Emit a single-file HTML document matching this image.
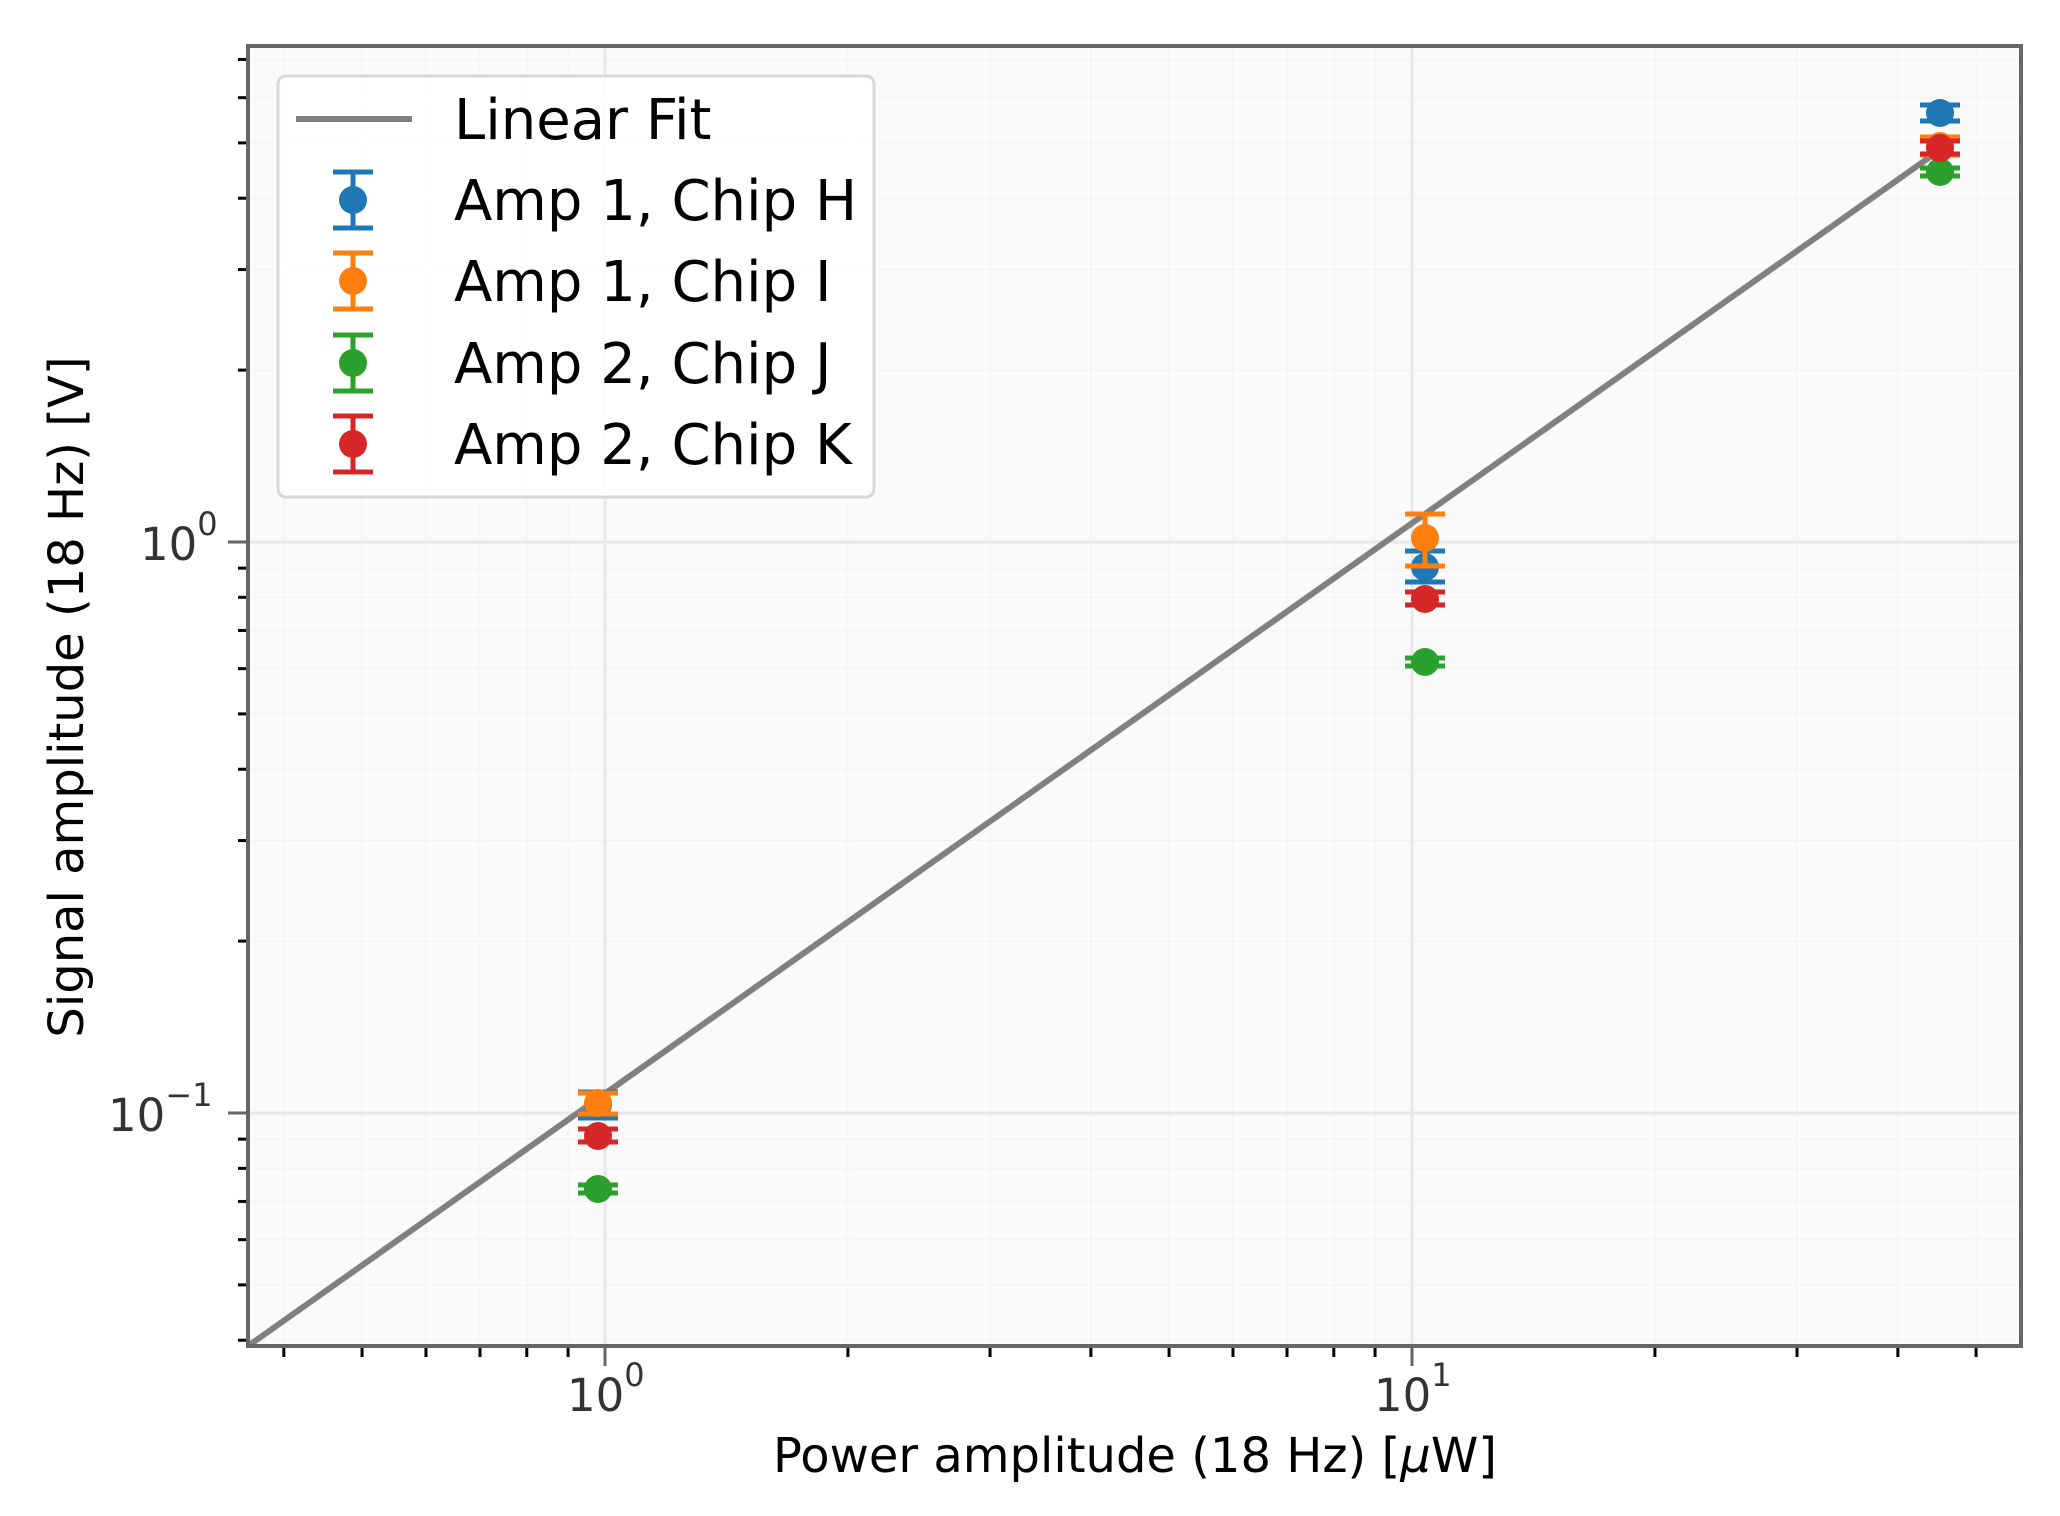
<!DOCTYPE html>
<html><head><meta charset="utf-8"><style>
html,body{margin:0;padding:0;background:#fff;}
svg{display:block;}
text{font-family:"DejaVu Sans","Liberation Sans",sans-serif;}
</style></head><body>
<svg id="s" width="2060" height="1516" viewBox="0 0 2060 1516" xmlns="http://www.w3.org/2000/svg">
<rect x="0" y="0" width="2060" height="1516" fill="#fff"/>
<rect x="248" y="46" width="1773" height="1300" fill="#fafafa"/>
<g id="grid"></g>
<g id="ticks"></g>
<line x1="248" y1="1346" x2="1937" y2="152" stroke="#808080" stroke-width="6"/>
<g id="pts"></g>
<rect x="248" y="46" width="1773" height="1300" fill="none" stroke="#666" stroke-width="4"/>
<g fill="#333" font-size="45">
<text x="567" y="1411">10<tspan font-size="32" dy="-25">0</tspan></text>
<text x="1374" y="1411">10<tspan font-size="32" dy="-25">1</tspan></text>
<text x="140" y="560">10<tspan font-size="32" dy="-25">0</tspan></text>
<text x="108" y="1131">10<tspan font-size="32" dy="-25">−1</tspan></text>
</g>
<text x="1135" y="1472" font-size="48" text-anchor="middle" fill="#000">Power amplitude (18 Hz) [<tspan font-style="italic">μ</tspan>W]</text>
<text transform="translate(83,697) rotate(-90)" font-size="48" text-anchor="middle" fill="#000">Signal amplitude (18 Hz) [V]</text>
<rect x="278" y="76" width="596" height="421" rx="8" ry="8" fill="#fff" fill-opacity="0.85" stroke="#d6d6d6" stroke-width="3"/>
<line x1="296" y1="119" x2="412" y2="119" stroke="#808080" stroke-width="6"/>
<g id="leg"></g>
<g font-size="56" fill="#000">
<text x="454" y="139">Linear Fit</text>
<text x="454" y="220">Amp 1, Chip H</text>
<text x="454" y="301">Amp 1, Chip I</text>
<text x="454" y="383">Amp 2, Chip J</text>
<text x="454" y="464">Amp 2, Chip K</text>
</g>
</svg>
<script>
var NS="http://www.w3.org/2000/svg";
function el(p,t,a){var e=document.createElementNS(NS,t);for(var k in a)e.setAttribute(k,a[k]);document.getElementById(p).appendChild(e);return e;}
function X(v){return 605+807*Math.log10(v);}
function Y(v){return 1113-571*(Math.log10(v)+1);}
var xm=[0.4,0.5,0.6,0.7,0.8,0.9,2,3,4,5,6,7,8,9,20,30,40,50];
var ym=[0.04,0.05,0.06,0.07,0.08,0.09,0.2,0.3,0.4,0.5,0.6,0.7,0.8,0.9,2,3,4,5,6,7];
xm.forEach(function(v){var x=X(v);
 el("grid","line",{x1:x,y1:46,x2:x,y2:1346,stroke:"#f2f2f2","stroke-width":1.2});
 el("ticks","line",{x1:x,y1:1348,x2:x,y2:1357,stroke:"#000","stroke-width":3});});
ym.forEach(function(v){var y=Y(v);
 el("grid","line",{x1:248,y1:y,x2:2021,y2:y,stroke:"#f2f2f2","stroke-width":1.2});
 el("ticks","line",{x1:238,y1:y,x2:246,y2:y,stroke:"#000","stroke-width":3});});
[1,10].forEach(function(v){var x=X(v);
 el("grid","line",{x1:x,y1:46,x2:x,y2:1346,stroke:"#e8e8e8","stroke-width":3});
 el("ticks","line",{x1:x,y1:1348,x2:x,y2:1366,stroke:"#666","stroke-width":3});});
[0.1,1].forEach(function(v){var y=Y(v);
 el("grid","line",{x1:248,y1:y,x2:2021,y2:y,stroke:"#e8e8e8","stroke-width":3});
 el("ticks","line",{x1:228,y1:y,x2:246,y2:y,stroke:"#666","stroke-width":3});});
function pt(g,x,y,t,b,c){
 el(g,"line",{x1:x,y1:t,x2:x,y2:b,stroke:c,"stroke-width":5});
 el(g,"line",{x1:x-20,y1:t,x2:x+20,y2:t,stroke:c,"stroke-width":5});
 el(g,"line",{x1:x-20,y1:b,x2:x+20,y2:b,stroke:c,"stroke-width":5});
 el(g,"circle",{cx:x,cy:y,r:14,fill:c});}
var B="#1f77b4",O="#ff7f0e",G="#2ca02c",R="#d62728";
pt("pts",598,1105,1092,1118,B);
pt("pts",598,1103,1093,1114,O);
pt("pts",598,1189,1185,1193,G);
pt("pts",598,1136,1129,1142,R);
pt("pts",1425,567,551,582,B);
pt("pts",1425,538,514,566,O);
pt("pts",1425,662,658,666,G);
pt("pts",1425,599,592,605,R);
pt("pts",1940,113,105,121,B);
pt("pts",1940,146,137,155,O);
pt("pts",1940,172,168,176,G);
pt("pts",1940,148,141,154,R);
pt("leg",353,200,172,228,B);
pt("leg",353,281,253,309,O);
pt("leg",353,363,335,391,G);
pt("leg",353,444,416,472,R);
</script>
</body></html>
